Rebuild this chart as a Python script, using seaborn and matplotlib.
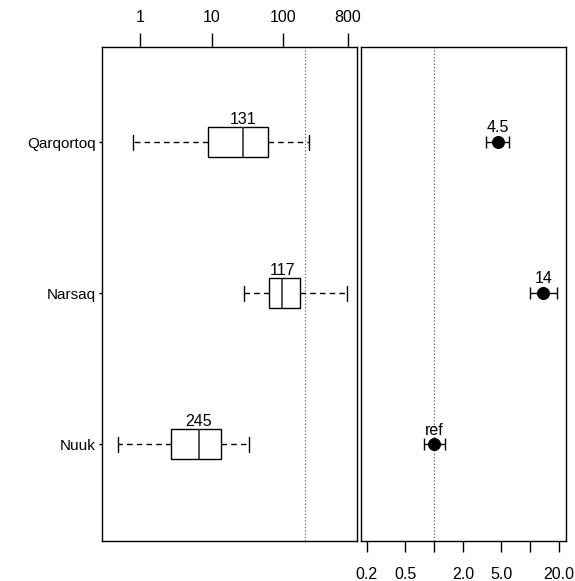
import numpy as np
import pandas as pd
import matplotlib
matplotlib.use("Agg")
import matplotlib.pyplot as plt
import seaborn as sns

# ---- data ----
sites = ["Qarqortoq", "Narsaq", "Nuuk"]
box_min = [0.79, 28.8, 0.50]
box_q1 = [9.0, 64.3, 2.71]
box_med = [27.3, 97.7, 6.68]
box_q3 = [62.3, 173.0, 13.4]
box_max = [231.0, 785.0, 33.8]
counts = [131, 117, 245]

or_est = [4.6, 13.8, 1.0]
or_lo = [3.45, 10.0, 0.79]
or_hi = [6.04, 19.0, 1.30]
or_labels = ["4.5", "14", "ref"]

top_ticks = [1, 10, 100, 800]
top_labels = ["1", "10", "100", "800"]
bot_ticks = [0.2, 0.5, 1, 2, 5, 10, 20]
bot_labels = ["0.2", "0.5", "", "2.0", "5.0", "", "20.0"]
left_ref = 200
right_ref = 1

sns.set_style("white")
plt.rcParams["font.family"] = ["Liberation Sans", "DejaVu Sans"]
plt.rcParams["text.color"] = "black"
plt.rcParams["xtick.color"] = "black"
plt.rcParams["ytick.color"] = "black"
plt.rcParams["axes.labelcolor"] = "black"
FS = 11.5

rows = []
for s, a, b, c, d, e in zip(sites, box_min, box_q1, box_med, box_q3, box_max):
    for v in (a, b, c, d, e):
        rows.append({"site": s, "value": v})
df = pd.DataFrame(rows)

fig = plt.figure(figsize=(5.75, 5.81), dpi=100)
W, H = 575, 581
axL = fig.add_axes([102 / W, (H - 541) / H, 255 / W, 494 / H])
axR = fig.add_axes([361 / W, (H - 541) / H, 205 / W, 494 / H])

sns.boxplot(data=df, x="value", y="site", order=sites, orient="h", whis=(0, 100),
            width=0.2, log_scale=True, color="white", saturation=1,
            linecolor="black", linewidth=1, fliersize=0, ax=axL,
            whiskerprops=dict(linestyle=(0, (4, 3)), color="black"),
            capprops=dict(linestyle="-", color="black"),
            medianprops=dict(color="#333333", linewidth=1.2))
for i, (m, n) in enumerate(zip(box_med, counts)):
    axL.text(m, i - 0.1, str(n), ha="center", va="bottom", fontsize=FS)
axL.axvline(left_ref, color="#444444", linestyle=(0, (1, 2)), linewidth=0.8)
axL.set_xlim(0.294, 1084)
axL.set_ylim(2.64, -0.63)
axL.xaxis.tick_top()
axL.set_xticks(top_ticks)
axL.set_xticklabels(top_labels, fontsize=FS)
axL.xaxis.set_minor_locator(matplotlib.ticker.NullLocator())
axL.tick_params(axis="x", which="major", top=True, bottom=False, length=10, width=1, pad=6)
axL.tick_params(axis="y", left=True, length=2.5, width=1, pad=2, labelsize=11)
axL.set_xlabel("")
axL.set_ylabel("")

sns.scatterplot(x=or_est, y=sites, color="black", s=75, edgecolor="black", zorder=3, ax=axR)
ypos = np.arange(len(sites))
axR.errorbar(or_est, ypos,
             xerr=[np.array(or_est) - np.array(or_lo), np.array(or_hi) - np.array(or_est)],
             fmt="none", ecolor="black", elinewidth=1, capsize=4.5, capthick=1, zorder=2)
for i, (x, lab) in enumerate(zip(or_est, or_labels)):
    axR.text(x, i - 0.045, lab, ha="center", va="bottom", fontsize=FS)
axR.axvline(right_ref, color="#444444", linestyle=(0, (1, 2)), linewidth=0.8)
axR.set_xscale("log")
axR.set_xlim(0.174, 23.7)
axR.set_ylim(2.64, -0.63)
axR.set_xticks(bot_ticks)
axR.set_xticklabels(bot_labels, fontsize=FS)
axR.xaxis.set_minor_locator(matplotlib.ticker.NullLocator())
axR.tick_params(axis="x", which="major", bottom=True, length=8, width=1, pad=11)
axR.set_yticks([])
axR.set_xlabel("")
axR.set_ylabel("")

for ax in (axL, axR):
    for sp in ax.spines.values():
        sp.set_color("black")
        sp.set_linewidth(1)
        sp.set_visible(True)

fig.savefig("out.png", dpi=100)
